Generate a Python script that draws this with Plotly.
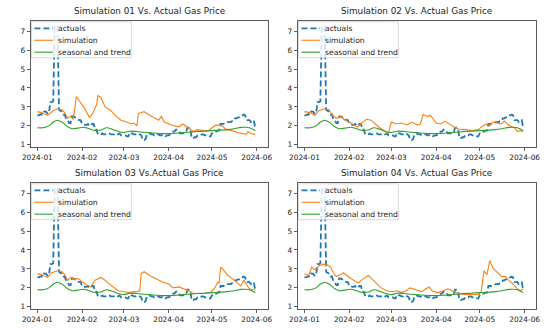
import pandas as pd
import plotly.graph_objects as go

# ---------------- data ----------------
actual_dates = pd.date_range("2024-01-01", "2024-05-31", freq="D")
actual_values = [
    # Jan
    2.55, 2.55, 2.6, 2.6, 2.8, 2.75, 2.75, 2.65, 2.65, 3.25, 3.25, 3.3, 7.25, 7.25, 7.25, 2.85,
    2.8, 2.75, 2.6, 2.6, 2.35, 2.3, 2.15, 2.15, 2.5, 2.5, 2.45, 2.45, 2.35, 2.3, 2.3,
    # Feb
    2.1, 2.1, 2.05, 2.05, 2.1, 2.0, 2.0, 2.1, 2.1, 1.8, 1.8,
    1.55, 1.55, 1.55, 1.6, 1.55, 1.55, 1.55, 1.6, 1.6, 1.55, 1.55, 1.55, 1.5, 1.55, 1.55, 1.6, 1.5, 1.5,
    # Mar
    1.5, 1.5, 1.45, 1.45, 1.65, 1.6, 1.6, 1.55, 1.55, 1.6, 1.6, 1.55, 1.5, 1.25, 1.25, 1.3,
    1.55, 1.55, 1.6, 1.55, 1.55, 1.5, 1.55, 1.55, 1.55, 1.5, 1.5, 1.55, 1.5, 1.45, 1.5,
    # Apr
    1.5, 1.55, 1.6, 1.7, 1.7, 1.8, 1.8, 1.75, 1.6, 1.6, 1.6, 1.65, 1.65, 1.9, 1.9, 1.85,
    1.35, 1.35, 1.4, 1.4, 1.5, 1.5, 1.5, 1.55, 1.55, 1.5, 1.5, 1.45, 1.45, 1.45,
    # May
    1.6, 1.7, 1.7, 1.7, 1.75, 1.75, 2.1, 2.1, 2.1, 2.15, 2.15, 2.2, 2.2, 2.2, 2.25, 2.25,
    2.4, 2.4, 2.45, 2.45, 2.55, 2.55, 2.6, 2.55, 2.3, 2.3, 2.3, 2.2, 2.25, 2.3, 1.9,
]

trend_dates = ["2024-01-01", "2024-01-05", "2024-01-09", "2024-01-12", "2024-01-15", "2024-01-18",
               "2024-01-22", "2024-01-25", "2024-01-29", "2024-02-02", "2024-02-06", "2024-02-10",
               "2024-02-14", "2024-02-18", "2024-02-22", "2024-02-26", "2024-03-01", "2024-03-05",
               "2024-03-10", "2024-03-15", "2024-03-20", "2024-03-26", "2024-04-01", "2024-04-08",
               "2024-04-15", "2024-04-20", "2024-04-25", "2024-05-01", "2024-05-06", "2024-05-12",
               "2024-05-17", "2024-05-21", "2024-05-24", "2024-05-27", "2024-05-31"]
trend_values = [1.9, 1.9, 2.0, 2.2, 2.3, 2.2, 1.95, 1.85, 1.88, 1.93, 1.85, 1.76,
                1.78, 1.9, 1.82, 1.7, 1.65, 1.72, 1.7, 1.66, 1.63, 1.6, 1.59, 1.62,
                1.66, 1.7, 1.72, 1.75, 1.77, 1.8, 1.86, 1.92, 1.93, 1.9, 1.76]

sim1_dates = ["2024-01-01", "2024-01-04", "2024-01-08", "2024-01-12", "2024-01-15", "2024-01-18",
              "2024-01-20", "2024-01-22", "2024-01-24", "2024-01-26", "2024-01-28", "2024-01-31",
              "2024-02-03", "2024-02-06", "2024-02-08", "2024-02-10", "2024-02-11", "2024-02-12",
              "2024-02-14", "2024-02-17", "2024-02-21", "2024-02-24", "2024-02-28", "2024-03-03",
              "2024-03-06", "2024-03-08", "2024-03-10", "2024-03-11", "2024-03-15", "2024-03-18",
              "2024-03-22", "2024-03-25", "2024-03-27", "2024-03-29", "2024-04-03", "2024-04-08",
              "2024-04-11", "2024-04-15", "2024-04-18", "2024-04-21", "2024-04-25", "2024-04-29",
              "2024-05-01", "2024-05-04", "2024-05-08", "2024-05-11", "2024-05-15", "2024-05-19",
              "2024-05-22", "2024-05-25", "2024-05-26", "2024-05-28", "2024-05-31"]
sim1_values = [2.75, 2.7, 2.55, 2.8, 2.9, 2.85, 2.7, 2.4, 2.5, 2.35, 3.55, 3.2,
               2.9, 2.45, 2.6, 2.95, 3.1, 3.6, 3.5, 3.0, 2.8, 2.55, 2.3, 2.2,
               2.1, 2.15, 2.0, 2.65, 2.75, 2.6, 2.45, 2.3, 2.5, 2.2, 2.05, 1.95,
               2.1, 1.85, 1.7, 1.8, 1.75, 1.75, 1.9, 2.05, 2.0, 1.8, 1.75, 1.65,
               1.6, 1.55, 1.7, 1.6, 1.55]

sim2_dates = ["2024-01-01", "2024-01-05", "2024-01-08", "2024-01-11", "2024-01-15", "2024-01-18",
              "2024-01-20", "2024-01-23", "2024-01-26", "2024-01-29", "2024-02-01", "2024-02-05",
              "2024-02-07", "2024-02-10", "2024-02-13", "2024-02-16", "2024-02-19", "2024-02-22",
              "2024-02-26", "2024-02-28", "2024-03-01", "2024-03-04", "2024-03-08", "2024-03-12",
              "2024-03-15", "2024-03-19", "2024-03-21", "2024-03-23", "2024-03-26", "2024-03-28",
              "2024-04-01", "2024-04-04", "2024-04-07", "2024-04-10", "2024-04-14", "2024-04-18",
              "2024-04-22", "2024-04-26", "2024-04-30", "2024-05-03", "2024-05-06", "2024-05-08",
              "2024-05-10", "2024-05-13", "2024-05-16", "2024-05-18", "2024-05-20", "2024-05-23",
              "2024-05-25", "2024-05-27", "2024-05-29", "2024-05-31"]
sim2_values = [2.75, 2.7, 2.55, 2.8, 2.9, 2.85, 2.6, 2.4, 2.5, 2.3, 2.2, 2.0,
               1.95, 2.2, 2.35, 2.3, 2.1, 1.9, 1.7, 1.6, 2.2, 2.1, 2.15, 2.05,
               2.2, 2.05, 2.1, 2.6, 2.5, 2.55, 2.15, 2.1, 2.25, 2.1, 1.9, 1.8,
               1.8, 1.75, 1.8, 2.0, 2.1, 2.0, 2.2, 2.15, 2.1, 2.25, 2.1, 1.95,
               1.9, 1.7, 1.75, 1.7]

sim3_dates = ["2024-01-01", "2024-01-04", "2024-01-08", "2024-01-11", "2024-01-15", "2024-01-18",
              "2024-01-20", "2024-01-22", "2024-01-24", "2024-01-27", "2024-01-29", "2024-02-01",
              "2024-02-04", "2024-02-07", "2024-02-10", "2024-02-14", "2024-02-17", "2024-02-20",
              "2024-02-23", "2024-02-26", "2024-03-01", "2024-03-05", "2024-03-08", "2024-03-10",
              "2024-03-12", "2024-03-13", "2024-03-15", "2024-03-20", "2024-03-24", "2024-03-28",
              "2024-04-01", "2024-04-04", "2024-04-08", "2024-04-12", "2024-04-15", "2024-04-18",
              "2024-04-22", "2024-04-26", "2024-04-30", "2024-05-03", "2024-05-05", "2024-05-06",
              "2024-05-07", "2024-05-09", "2024-05-12", "2024-05-15", "2024-05-18", "2024-05-21",
              "2024-05-23", "2024-05-25", "2024-05-27", "2024-05-29", "2024-05-31"]
sim3_values = [2.75, 2.7, 2.55, 2.8, 2.9, 2.85, 2.7, 2.4, 2.55, 2.45, 2.5, 2.3,
               2.15, 2.05, 2.4, 2.55, 2.4, 2.2, 2.0, 1.85, 1.8, 1.75, 1.8, 1.8,
               1.85, 2.75, 2.85, 2.6, 2.45, 2.3, 2.2, 2.0, 2.05, 1.95, 1.85, 1.7,
               1.7, 1.7, 1.75, 2.0, 2.3, 2.25, 3.1, 2.95, 2.65, 2.5, 2.3, 2.1,
               2.4, 2.2, 1.95, 1.9, 1.9]

sim4_dates = ["2024-01-01", "2024-01-04", "2024-01-06", "2024-01-08", "2024-01-11", "2024-01-14",
              "2024-01-17", "2024-01-19", "2024-01-21", "2024-01-23", "2024-01-26", "2024-01-28",
              "2024-01-31", "2024-02-04", "2024-02-07", "2024-02-10", "2024-02-14", "2024-02-17",
              "2024-02-20", "2024-02-23", "2024-02-27", "2024-03-02", "2024-03-05", "2024-03-08",
              "2024-03-11", "2024-03-14", "2024-03-18", "2024-03-22", "2024-03-25", "2024-03-27",
              "2024-03-29", "2024-04-02", "2024-04-06", "2024-04-09", "2024-04-12", "2024-04-16",
              "2024-04-20", "2024-04-25", "2024-04-30", "2024-05-02", "2024-05-04", "2024-05-06",
              "2024-05-08", "2024-05-10", "2024-05-13", "2024-05-16", "2024-05-19", "2024-05-21",
              "2024-05-24", "2024-05-27", "2024-05-29", "2024-05-31"]
sim4_values = [2.75, 2.65, 3.1, 2.95, 3.15, 3.25, 3.2, 3.1, 2.8, 2.6, 2.7, 2.8,
               2.6, 2.4, 2.25, 2.45, 2.65, 2.45, 2.2, 2.0, 1.85, 1.8, 1.85, 1.75,
               1.85, 2.0, 1.9, 1.8, 1.95, 2.05, 1.85, 1.75, 1.85, 1.95, 1.85, 1.7,
               1.65, 1.65, 1.65, 1.8, 2.9, 2.7, 3.45, 3.05, 2.85, 2.6, 2.6, 2.4,
               2.2, 1.95, 1.85, 1.95]

titles = ["Simulation 01 Vs. Actual Gas Price", "Simulation 02 Vs. Actual Gas Price",
          "Simulation 03 Vs.Actual Gas Price", "Simulation 04 Vs. Actual Gas Price"]
series_names = ["actuals", "simulation", "seasonal and trend"]
sims = [(sim1_dates, sim1_values), (sim2_dates, sim2_values),
        (sim3_dates, sim3_values), (sim4_dates, sim4_values)]
month_ticks = ["2024-01-01", "2024-02-01", "2024-03-01", "2024-04-01", "2024-05-01", "2024-06-01"]
month_labels = ["2024-01", "2024-02", "2024-03", "2024-04", "2024-05", "2024-06"]
y_ticks = [1, 2, 3, 4, 5, 6, 7]

# ---------------- layout geometry (screen pixels; body margin removed) ----------------
W, H = 550, 328


def px(xs):
    return xs / W


def py(ys):
    return 1 - ys / H


boxes = [(23, 266, 21, 148), (296, 540, 21, 148), (23, 266, 184, 311), (296, 540, 184, 311)]
FONT = "DejaVu Sans"
BLUE, ORANGE, GREEN = "#1f77b4", "#ff7f0e", "#2ca02c"
styles = [dict(color=BLUE, width=1.8, dash="6px,3px"),
          dict(color=ORANGE, width=1.1),
          dict(color=GREEN, width=1.1)]

fig = go.Figure()
layout = dict(width=W, height=H, margin=dict(l=0, r=0, t=0, b=0),
              paper_bgcolor="white", plot_bgcolor="white", showlegend=False,
              font=dict(family=FONT, size=7.5, color="#222"))
annotations = []
shapes = []
for i, (x0, x1, y0, y1) in enumerate(boxes):
    n = "" if i == 0 else str(i + 1)
    xa, ya = "x" + n, "y" + n
    sd, sv = sims[i]
    fig.add_trace(go.Scatter(x=actual_dates, y=actual_values, mode="lines", name=series_names[0],
                             line=styles[0], xaxis=xa, yaxis=ya))
    fig.add_trace(go.Scatter(x=pd.to_datetime(sd), y=sv, mode="lines", name=series_names[1],
                             line=styles[1], xaxis=xa, yaxis=ya))
    fig.add_trace(go.Scatter(x=pd.to_datetime(trend_dates), y=trend_values, mode="lines",
                             name=series_names[2], line=dict(styles[2], shape="spline"),
                             xaxis=xa, yaxis=ya))
    axis_common = dict(ticks="outside", ticklen=3, tickwidth=0.8, tickcolor="#333",
                       showline=True, linecolor="#333", linewidth=0.8, mirror=True,
                       showgrid=False, zeroline=False,
                       tickfont=dict(family=FONT, size=7.4, color="#222"))
    layout["xaxis" + n] = dict(domain=[px(x0), px(x1)], anchor=ya, type="date",
                               range=["2023-12-27 06:00", "2024-06-09"],
                               tickmode="array", tickvals=month_ticks, ticktext=month_labels,
                               **axis_common)
    layout["yaxis" + n] = dict(domain=[py(y1), py(y0)], anchor=xa, range=[0.88, 7.54],
                               tickmode="array", tickvals=y_ticks, **axis_common)
    annotations.append(dict(text=titles[i], x=px((x0 + x1) / 2), y=py(y0 - 10),
                            xref="paper", yref="paper", xanchor="center", yanchor="middle",
                            showarrow=False, font=dict(family=FONT, size=8.8, color="#222")))
    # manual legend (matplotlib style)
    lx0, ly0 = x0 + 1, y0 + 1
    lx1, ly1 = x0 + 103, y0 + 37
    shapes.append(dict(type="rect", xref="paper", yref="paper", layer="above",
                       x0=px(lx0), x1=px(lx1), y0=py(ly1), y1=py(ly0),
                       fillcolor="rgba(255,255,255,0.8)",
                       line=dict(color="#d0d0d0", width=0.8)))
    for k in range(3):
        yy = ly0 + 6.5 + 12 * k
        shapes.append(dict(type="line", xref="paper", yref="paper", layer="above",
                           x0=px(lx0 + 3), x1=px(lx0 + 22), y0=py(yy), y1=py(yy),
                           line=dict(styles[k])))
        annotations.append(dict(text=series_names[k], x=px(lx0 + 25), y=py(yy),
                                xref="paper", yref="paper", xanchor="left", yanchor="middle",
                                showarrow=False, font=dict(family=FONT, size=7.6, color="#222")))
layout["annotations"] = annotations
layout["shapes"] = shapes
fig.update_layout(**layout)
fig.write_html("out.html", config={"displayModeBar": False, "staticPlot": True},
               post_script="document.body.style.margin='0';document.body.style.overflow='hidden';")
